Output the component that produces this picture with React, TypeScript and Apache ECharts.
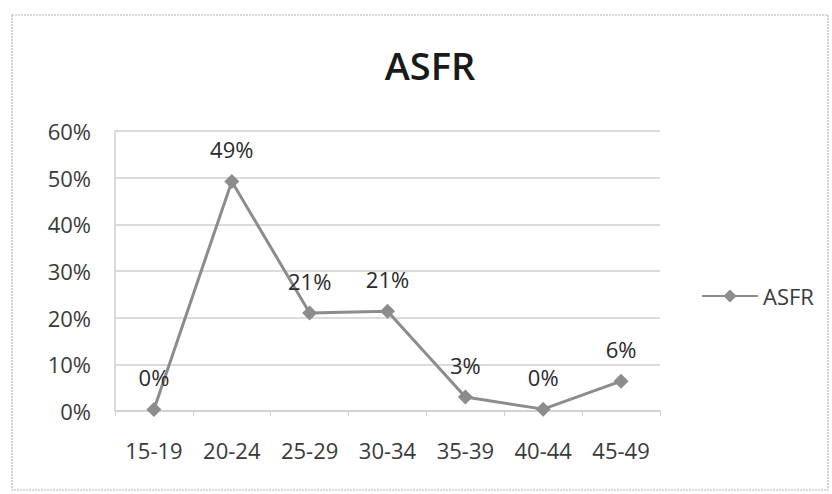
import React, { useEffect, useRef } from "react";
import * as echarts from "echarts";

const categories = ["15-19", "20-24", "25-29", "30-34", "35-39", "40-44", "45-49"];
const asfrValues = [0.3, 49.2, 21.0, 21.4, 3.0, 0.4, 6.4];
const labelTexts = ["0%", "49%", "21%", "21%", "3%", "0%", "6%"];
const seriesName = "ASFR";
const titleText = "ASFR";

const FONT = "'Open Sans', sans-serif";
const TEXT = "#3a3a3a";
const FS = 22;

export default function App() {
  const ref = useRef<HTMLDivElement>(null);
  useEffect(() => {
    if (!ref.current) return;
    const chart = echarts.init(ref.current, undefined, { renderer: "svg" });
    chart.setOption({
      animation: false,
      backgroundColor: "#ffffff",
      textStyle: { fontFamily: FONT },
      title: {
        text: titleText,
        left: 425,
        top: 41,
        textAlign: "center",
        textStyle: { fontFamily: FONT, fontSize: 38, fontWeight: 600, color: "#1a1a1a" },
      },
      graphic: [
        {
          type: "rect",
          shape: { x: 12, y: 15, width: 816, height: 475 },
          style: { fill: "none", stroke: "#b5b5b5", lineWidth: 1.2, lineDash: [2, 1] },
          silent: true,
        },
      ],
      legend: {
        data: [seriesName],
        left: 696,
        top: 280,
        itemWidth: 56,
        itemHeight: 16,
        itemGap: 6,
        textStyle: { fontFamily: FONT, fontSize: FS, color: TEXT },
      },
      grid: { left: 115, right: 172, top: 131, bottom: 83 },
      xAxis: {
        type: "category",
        data: categories,
        boundaryGap: true,
        axisLine: { show: true, lineStyle: { color: "#d0d0d0", width: 1.5 } },
        axisTick: { show: true, alignWithLabel: false, length: 5, lineStyle: { color: "#d0d0d0" } },
        axisLabel: { fontFamily: FONT, fontSize: FS, color: TEXT, margin: 28 },
      },
      yAxis: {
        type: "value",
        min: 0,
        max: 60,
        interval: 10,
        axisLine: { show: true, lineStyle: { color: "#d0d0d0", width: 1.5 } },
        axisTick: { show: false },
        splitLine: { show: true, lineStyle: { color: "#cfcfcf", width: 1.5 } },
        axisLabel: {
          fontFamily: FONT,
          fontSize: FS,
          color: TEXT,
          margin: 24,
          formatter: (v: number) => `${v}%`,
        },
      },
      series: [
        {
          name: seriesName,
          type: "line",
          data: asfrValues,
          symbol: "diamond",
          symbolSize: 15,
          lineStyle: { color: "#8c8c8c", width: 3 },
          itemStyle: { color: "#8c8c8c" },
          label: {
            show: true,
            position: "top",
            distance: 14,
            fontFamily: FONT,
            fontSize: FS,
            color: "#2a2a2a",
            formatter: (p: any) => labelTexts[p.dataIndex],
          },
        },
      ],
    });
    return () => chart.dispose();
  }, []);
  return <div ref={ref} style={{ width: 832, height: 494, position: "absolute", left: 0, top: 0 }} />;
}
